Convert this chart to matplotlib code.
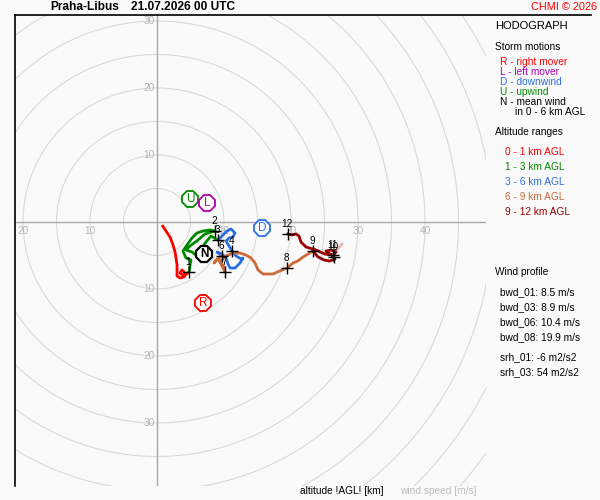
import matplotlib
matplotlib.use("Agg")
import matplotlib.pyplot as plt
from matplotlib.patches import Circle
from matplotlib.lines import Line2D

plt.rcParams['font.family'] = ['Liberation Sans', 'DejaVu Sans']

# ---------------- data (m/s) ----------------
u_0_1 = [0.75, 1.34, 1.94, 2.39, 2.69, 2.84, 2.99, 2.99, 2.99, 3.43, 4.03, 4.18, 3.73, 3.43, 4.03, 4.63, 4.78]
v_0_1 = [-0.45, -1.34, -2.24, -3.43, -4.48, -5.37, -6.42, -7.31, -8.06, -8.36, -8.21, -7.61, -7.16, -7.61, -8.06, -7.61, -7.46]

u_1_3 = [4.78, 4.93, 5.07, 4.33, 3.88, 4.48, 5.22, 5.97, 6.87, 7.91, 8.66, 7.16, 6.12, 4.93, 4.33, 5.22, 5.82, 6.57, 7.31, 8.06, 9.10]
v_1_3 = [-7.46, -6.42, -5.67, -5.37, -4.33, -3.43, -2.39, -1.64, -1.34, -1.19, -1.34, -1.79, -2.69, -3.58, -4.18, -4.48, -4.93, -4.03, -2.99, -2.09, -2.69]

u_3_6 = [9.10, 9.70, 10.45, 11.04, 11.64, 11.34, 10.75, 10.30, 10.75, 11.19, 11.79, 12.54, 12.84, 12.39, 11.64, 10.90, 10.60, 10.30, 9.70, 8.96, 9.70]
v_3_6 = [-2.69, -2.09, -1.34, -1.04, -1.64, -2.24, -2.39, -2.84, -3.58, -4.33, -5.07, -5.52, -5.37, -6.12, -6.87, -6.87, -6.27, -5.37, -4.78, -4.48, -5.07]

u_6_9 = [9.70, 8.81, 8.51, 9.10, 10.00, 10.15, 9.40, 10.30, 11.34, 12.39, 13.28, 14.03, 14.63, 15.07, 15.82, 17.31, 18.66, 19.40, 20.30, 21.04, 21.79, 22.54, 23.28]
v_6_9 = [-5.07, -5.67, -6.12, -5.52, -6.72, -7.46, -5.97, -5.07, -4.63, -4.63, -4.93, -5.37, -6.12, -7.16, -7.76, -7.76, -7.16, -6.87, -6.12, -5.82, -5.22, -4.78, -4.33]

u_9_12 = [23.28, 24.03, 24.93, 25.82, 26.57, 26.42, 25.82, 25.22, 25.97, 26.72, 26.27, 25.07, 23.73, 22.24, 21.49, 21.19, 20.75, 20.15, 19.55]
v_9_12 = [-4.33, -5.22, -5.67, -5.82, -5.52, -5.22, -4.78, -4.33, -4.18, -4.48, -4.93, -4.78, -4.18, -3.73, -2.99, -2.09, -1.79, -1.94, -1.79]

u_top = [26.7, 27.6]
v_top = [-4.3, -3.3]

mark_km = ['1', '2', '3', '4', '6', '7', '8', '9', '10', '11', '12']
mark_u = [4.78, 8.66, 9.10, 11.19, 9.70, 10.15, 19.40, 23.28, 26.42, 26.27, 19.55]
mark_v = [-7.46, -1.34, -2.69, -4.33, -5.07, -7.46, -6.87, -4.33, -5.22, -4.93, -1.79]

storm_letters = ['U', 'L', 'D', 'N', 'R']
storm_u = [4.93, 7.46, 15.67, 7.01, 6.87]
storm_v = [3.43, 2.84, -0.90, -4.78, -12.09]

ring_values = list(range(5, 75, 5))
tick_values = [10, 20, 30, 40]

wind_profile = ['bwd_01: 8.5 m/s', 'bwd_03: 8.9 m/s', 'bwd_06: 10.4 m/s', 'bwd_08: 19.9 m/s']
helicity = ['srh_01: -6 m2/s2', 'srh_03: 54 m2/s2']

# ---------------- styles ----------------
BG = '#fafafa'
C_RED = '#ff0000'
C_GREEN = '#008a00'
C_BLUE = '#2a6fe0'
C_BROWN = '#cc6a3a'
C_MAROON = '#9a0000'
C_PURPLE = '#b000b0'
storm_colors = [C_GREEN, C_PURPLE, C_BLUE, 'black', C_RED]

W, H = 600, 500
fig = plt.figure(figsize=(6, 5), dpi=100, facecolor=BG)

def fx(x):
    return x / W

def fy(y):
    return 1 - y / H

# plot area in pixels: x 15..486, y 15..486 ; origin at (157,222), 6.7 px per m/s
ax = fig.add_axes([fx(15), fy(486), 471 / W, 471 / H])
ax.set_facecolor(BG)
scale = 6.7
ax.set_xlim(-142 / scale, 329 / scale)
ax.set_ylim(-264 / scale, 207 / scale)
ax.set_xticks([])
ax.set_yticks([])
for s in ['right', 'bottom', 'top']:
    ax.spines[s].set_visible(False)
ax.spines['left'].set_color('black')
ax.spines['left'].set_linewidth(1.2)

for r in ring_values:
    ax.add_patch(Circle((0, 0), r, fill=False, edgecolor='#d9d9d9', lw=0.8, zorder=1))
ax.axhline(0, color='#a8a8a8', lw=1.0, zorder=2)
ax.axvline(0, color='#a8a8a8', lw=1.0, zorder=2)

tick_col = '#b4b4b4'
for t in tick_values:
    ax.annotate(str(t), (0, t), xytext=(-1.5, 0), textcoords='offset points',
                ha='right', va='center', fontsize=7.2, color=tick_col, zorder=3)
    ax.annotate(str(t), (0, -t), xytext=(-1.5, 0), textcoords='offset points',
                ha='right', va='center', fontsize=7.2, color=tick_col, zorder=3)
    ax.annotate(str(t), (t, 0), xytext=(0, -3), textcoords='offset points',
                ha='center', va='top', fontsize=7.2, color=tick_col, zorder=3)
    if t <= 20:
        ax.annotate(str(t), (-t, 0), xytext=(0, -3), textcoords='offset points',
                    ha='center', va='top', fontsize=7.2, color=tick_col, zorder=3)

lw = 2.0
ax.plot(u_0_1, v_0_1, color=C_RED, lw=lw, zorder=5, solid_capstyle='butt')
ax.plot(u_1_3, v_1_3, color=C_GREEN, lw=lw, zorder=5)
ax.plot(u_3_6, v_3_6, color=C_BLUE, lw=lw, zorder=5)
ax.plot(u_6_9, v_6_9, color=C_BROWN, lw=lw, zorder=5)
ax.plot(u_9_12, v_9_12, color=C_MAROON, lw=lw, zorder=5)
ax.plot(u_top, v_top, color='#e8b4b4', lw=lw, zorder=4)

ax.plot(mark_u, mark_v, linestyle='none', marker='+', markersize=9,
        markeredgewidth=1.0, color='black', zorder=6)
for lab, mu, mv in zip(mark_km, mark_u, mark_v):
    ax.annotate(lab, (mu, mv), xytext=(-0.5, 7.5), textcoords='offset points',
                ha='center', va='center', fontsize=7.2, color='black', zorder=7)

for letter, su, sv, col in zip(storm_letters, storm_u, storm_v, storm_colors):
    ax.plot([su], [sv], marker='8', markersize=12.5, mfc='white', mec=col,
            mew=1.3 if letter != 'N' else 1.6, linestyle='none', zorder=8)
    ax.text(su, sv, letter, ha='center', va='center', fontsize=8.5, color=col,
            fontweight='bold' if letter == 'N' else 'normal', zorder=9)

# top frame line spanning whole width
fig.add_artist(Line2D([fx(15), fx(591)], [fy(15), fy(15)], color='black', lw=1.2))

# header texts
fig.text(fx(50), fy(7), 'Praha-Libus', fontsize=8.6, fontweight='bold', ha='left', va='center')
fig.text(fx(131), fy(7), '21.07.2026 00 UTC', fontsize=8.6, fontweight='bold', ha='left', va='center')
fig.text(fx(597), fy(7), 'CHMI © 2026', fontsize=7.9, color=C_RED, ha='right', va='center')

# right panel
fs = 7.3
fig.text(fx(495), fy(26), 'HODOGRAPH', fontsize=8.0, ha='left', va='center')
fig.text(fx(495), fy(47), 'Storm motions', fontsize=fs, ha='left', va='center')
legend_rows = [('R - right mover', C_RED), ('L - left mover', C_PURPLE),
               ('D - downwind', C_BLUE), ('U - upwind', C_GREEN),
               ('N - mean wind', 'black')]
for i, (txt, col) in enumerate(legend_rows):
    fig.text(fx(500), fy(62 + 10 * i), txt, fontsize=fs, color=col, ha='left', va='center')
fig.text(fx(515), fy(112), 'in 0 - 6 km AGL', fontsize=fs, ha='left', va='center')

fig.text(fx(495), fy(132), 'Altitude ranges', fontsize=fs, ha='left', va='center')
alt_rows = [('0 - 1 km AGL', C_RED), ('1 - 3 km AGL', C_GREEN), ('3 - 6 km AGL', C_BLUE),
            ('6 - 9 km AGL', C_BROWN), ('9 - 12 km AGL', C_MAROON)]
for i, (txt, col) in enumerate(alt_rows):
    fig.text(fx(505), fy(152 + 15 * i), txt, fontsize=fs, color=col, ha='left', va='center')

fig.text(fx(495), fy(272), 'Wind profile', fontsize=fs, ha='left', va='center')
for i, txt in enumerate(wind_profile):
    fig.text(fx(500), fy(292 + 15 * i), txt, fontsize=fs, ha='left', va='center')
for i, txt in enumerate(helicity):
    fig.text(fx(500), fy(357 + 15 * i), txt, fontsize=fs, ha='left', va='center')

fig.text(fx(300), fy(491), 'altitude !AGL! [km]', fontsize=fs, ha='left', va='center')
fig.text(fx(400), fy(491), 'wind speed [m/s]', fontsize=fs, color='#bdbdbd', ha='left', va='center')

fig.savefig('out.png', dpi=100, facecolor=BG)
